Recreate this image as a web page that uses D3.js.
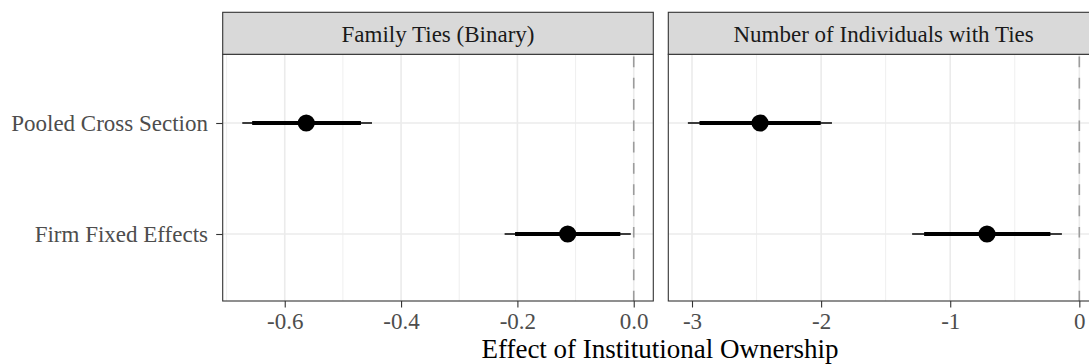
<!DOCTYPE html>
<html>
<head>
<meta charset="utf-8">
<script src="https://cdn.jsdelivr.net/npm/d3@7"></script>
<style>
  html, body { margin: 0; padding: 0; background: #fff; }
  svg { display: block; }
  text { font-family: "Liberation Serif", "Times New Roman", serif; }
</style>
</head>
<body>
<svg id="chart" width="1089" height="364"></svg>
<script>
// Model specifications (rows) and outcome measures (facets)
const categories = ["Pooled Cross Section", "Firm Fixed Effects"];
const facets = ["Family Ties (Binary)", "Number of Individuals with Ties"];

// Family Ties (Binary): point estimates with 90% and 95% intervals
const familyEst  = [-0.563, -0.1135];
const familyLo90 = [-0.656, -0.204];
const familyHi90 = [-0.469, -0.023];
const familyLo95 = [-0.673, -0.222];
const familyHi95 = [-0.450, -0.005];

// Number of Individuals with Ties
const countEst  = [-2.473, -0.715];
const countLo90 = [-2.942, -1.202];
const countHi90 = [-2.003, -0.224];
const countLo95 = [-3.032, -1.295];
const countHi95 = [-1.916, -0.135];

// Axis tick values and labels
const familyTicks = [-0.6, -0.4, -0.2, 0.0];
const familyTickLabels = ["-0.6", "-0.4", "-0.2", "0.0"];
const familyMinor = [-0.7, -0.5, -0.3, -0.1];
const countTicks = [-3, -2, -1, 0];
const countTickLabels = ["-3", "-2", "-1", "0"];
const countMinor = [-2.5, -1.5, -0.5];

const xTitle = "Effect of Institutional Ownership";

// ---- layout ----
const svg = d3.select("#chart");
const stripTop = 12.3, stripBottom = 54.3, panelBottom = 301;
const panelW = 430.6;
const panelLefts = [222.7, 668.3];
const fontSmall = 23, fontTitle = 27;

const panels = [
  { name: facets[0], est: familyEst, lo90: familyLo90, hi90: familyHi90, lo95: familyLo95, hi95: familyHi95,
    ticks: familyTicks, labels: familyTickLabels, minor: familyMinor },
  { name: facets[1], est: countEst, lo90: countLo90, hi90: countHi90, lo95: countLo95, hi95: countHi95,
    ticks: countTicks, labels: countTickLabels, minor: countMinor }
];

// shared discrete y scale
const y = d3.scalePoint().domain(categories).range([56.4, 300.6]).padding(0.6);

panels.forEach((p, i) => {
  const x0 = panelLefts[i], x1 = x0 + panelW;
  // continuous range including zero, expanded by 5% on each side
  const lo = Math.min(0, d3.min(p.lo95)), hi = Math.max(0, d3.max(p.hi95));
  const pad = (hi - lo) * 0.05;
  const x = d3.scaleLinear().domain([lo - pad, hi + pad]).range([x0, x1]);

  const g = svg.append("g");

  // panel background
  g.append("rect").attr("x", x0).attr("y", stripBottom)
    .attr("width", panelW).attr("height", panelBottom - stripBottom).attr("fill", "#fff");

  // minor grid
  g.selectAll(".minor").data(p.minor).join("line")
    .attr("x1", d => x(d)).attr("x2", d => x(d))
    .attr("y1", stripBottom).attr("y2", panelBottom)
    .attr("stroke", "#ededed").attr("stroke-width", 0.9);
  // major grid
  g.selectAll(".majorx").data(p.ticks).join("line")
    .attr("x1", d => x(d)).attr("x2", d => x(d))
    .attr("y1", stripBottom).attr("y2", panelBottom)
    .attr("stroke", "#ebebeb").attr("stroke-width", 1.6);
  g.selectAll(".majory").data(categories).join("line")
    .attr("x1", x0).attr("x2", x1)
    .attr("y1", d => y(d)).attr("y2", d => y(d))
    .attr("stroke", "#ebebeb").attr("stroke-width", 1.6);

  // reference line at zero
  g.append("line")
    .attr("x1", x(0)).attr("x2", x(0))
    .attr("y1", stripBottom + 2.2).attr("y2", panelBottom)
    .attr("stroke", "#9c9c9c").attr("stroke-width", 1.6)
    .attr("stroke-dasharray", "10.7,10.6");

  // estimates
  const rows = categories.map((c, k) => ({ c, est: p.est[k], lo90: p.lo90[k], hi90: p.hi90[k], lo95: p.lo95[k], hi95: p.hi95[k] }));
  g.selectAll(".ci95").data(rows).join("line")
    .attr("x1", d => x(d.lo95)).attr("x2", d => x(d.hi95))
    .attr("y1", d => y(d.c)).attr("y2", d => y(d.c))
    .attr("stroke", "#000").attr("stroke-width", 1.6);
  g.selectAll(".ci90").data(rows).join("line")
    .attr("x1", d => x(d.lo90)).attr("x2", d => x(d.hi90))
    .attr("y1", d => y(d.c)).attr("y2", d => y(d.c))
    .attr("stroke", "#000").attr("stroke-width", 4);
  g.selectAll(".pt").data(rows).join("circle")
    .attr("cx", d => x(d.est)).attr("cy", d => y(d.c)).attr("r", 8.6)
    .attr("fill", "#000");

  // panel border
  g.append("rect").attr("x", x0).attr("y", stripBottom)
    .attr("width", panelW).attr("height", panelBottom - stripBottom)
    .attr("fill", "none").attr("stroke", "#333").attr("stroke-width", 1.1);

  // strip
  g.append("rect").attr("x", x0).attr("y", stripTop)
    .attr("width", panelW).attr("height", stripBottom - stripTop)
    .attr("fill", "#d9d9d9").attr("stroke", "#333").attr("stroke-width", 1.1);
  g.append("text").attr("x", (x0 + x1) / 2).attr("y", 42)
    .attr("text-anchor", "middle").attr("font-size", fontSmall).attr("fill", "#1a1a1a")
    .text(p.name);

  // bottom axis
  const ax = d3.axisBottom(x).tickValues(p.ticks)
    .tickFormat((d, k) => p.labels[k]).tickSize(6.5).tickPadding(4.9).tickSizeOuter(0);
  const axg = g.append("g").attr("transform", `translate(0,${panelBottom})`).call(ax);
  axg.select(".domain").remove();
  axg.selectAll("line").attr("stroke", "#333").attr("stroke-width", 1.1);
  axg.selectAll("text").attr("font-size", fontSmall).attr("fill", "#4d4d4d")
    .attr("font-family", "Liberation Serif, Times New Roman, serif");

  // left axis only on the first panel
  if (i === 0) {
    const ay = d3.axisLeft(y).tickSize(6.5).tickPadding(8.2).tickSizeOuter(0);
    const ayg = g.append("g").attr("transform", `translate(${x0},0)`).call(ay);
    ayg.select(".domain").remove();
    ayg.selectAll("line").attr("stroke", "#333").attr("stroke-width", 1.1);
    ayg.selectAll("text").attr("font-size", fontSmall).attr("fill", "#4d4d4d")
      .attr("font-family", "Liberation Serif, Times New Roman, serif");
  }
});

// axis title
svg.append("text").attr("x", 660).attr("y", 358)
  .attr("text-anchor", "middle").attr("font-size", fontTitle).attr("fill", "#000")
  .text(xTitle);
</script>
</body>
</html>
